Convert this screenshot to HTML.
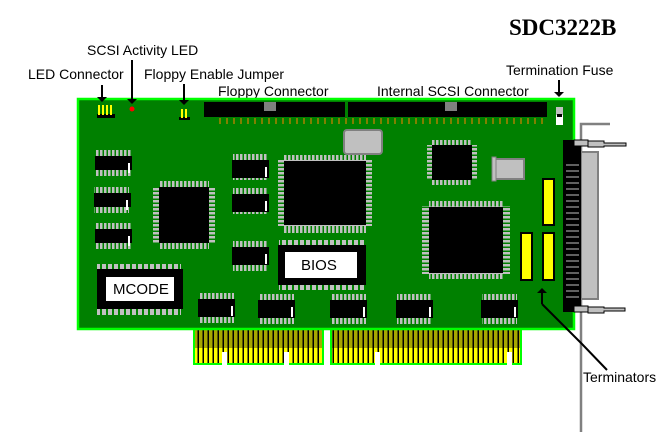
<!DOCTYPE html>
<html><head><style>body{margin:0;background:#fff}svg{display:block}text{font-family:"Liberation Sans",sans-serif;font-size:14px}</style></head><body>
<svg width="672" height="432" viewBox="0 0 672 432">
<defs>
<pattern id="pin" width="4" height="6" patternUnits="userSpaceOnUse"><rect width="2.5" height="6" fill="#c0c0c0"/></pattern>
<pattern id="pinv" width="6" height="4" patternUnits="userSpaceOnUse"><rect width="6" height="2.5" fill="#c0c0c0"/></pattern>
<pattern id="dpin" width="6" height="6" patternUnits="userSpaceOnUse"><rect width="4" height="6" fill="#c0c0c0"/></pattern>
<pattern id="gold" width="5" height="36" patternUnits="userSpaceOnUse"><rect width="5" height="36" fill="#ffff00"/><rect x="2.5" width="1.5" height="36" fill="#000"/></pattern>
<pattern id="hdr" width="7" height="7" patternUnits="userSpaceOnUse"><rect x="2" width="2" height="7" fill="#808000"/></pattern>
</defs>
<text x="509" y="35" style="font-family:'Liberation Serif',serif;font-weight:bold;font-size:23px">SDC3222B</text>
<text x="87" y="55">SCSI Activity LED</text>
<text x="28" y="79">LED Connector</text>
<text x="144" y="79">Floppy Enable Jumper</text>
<text x="218" y="96">Floppy Connector</text>
<text x="377" y="96">Internal SCSI Connector</text>
<text x="506" y="75">Termination Fuse</text>
<text x="583" y="382">Terminators</text>
<!-- edge connector -->
<rect x="193" y="328" width="131" height="37" fill="#00ff00"/>
<rect x="195" y="328" width="127" height="35" fill="url(#gold)"/>
<rect x="330" y="328" width="192" height="37" fill="#00ff00"/>
<rect x="332" y="328" width="188" height="35" fill="url(#gold)"/>
<rect x="195" y="328" width="127" height="20" fill="#000" opacity="0.35"/>
<rect x="332" y="328" width="188" height="20" fill="#000" opacity="0.35"/>
<rect x="222" y="352" width="5" height="13" fill="#fff"/><rect x="284" y="352" width="5" height="13" fill="#fff"/><rect x="375" y="352" width="5" height="13" fill="#fff"/><rect x="507" y="352" width="5" height="13" fill="#fff"/>
<!-- board -->
<rect x="78" y="99" width="496" height="230" fill="#008000" stroke="#00ff00" stroke-width="2.5"/>
<polyline points="610,124 581,124 581,432" fill="none" stroke="#808080" stroke-width="2.5"/>
<rect x="581" y="152" width="17" height="147" fill="#c0c0c0" stroke="#808080" stroke-width="2"/>
<rect x="563" y="140" width="18" height="172" fill="#000"/>
<g stroke="#c0c0c0" stroke-width="1">
<path d="M566 165h13M566 171h13M566 177h13M566 183h13M566 189h13M566 195h13M566 201h13M566 207h13M566 213h13M566 219h13M566 225h13M566 231h13M566 237h13M566 243h13M566 249h13M566 255h13M566 261h13M566 267h13M566 273h13M566 279h13M566 285h13M566 291h13M566 297h13"/></g>
<g fill="#c0c0c0" stroke="#000" stroke-width="1"><rect x="574" y="140" width="14" height="6"/><rect x="574" y="306" width="14" height="6"/>
<path d="M588 141h16v2h22v3h-22v1h-16z"/><path d="M588 307h16v1h21v3h-21v2h-16z"/></g>
<!-- headers -->
<rect x="204" y="102" width="141" height="15" fill="#000"/>
<rect x="348" y="102" width="199" height="15" fill="#000"/>
<rect x="264" y="102" width="12" height="9" fill="#808080"/><rect x="445" y="102" width="12" height="9" fill="#808080"/>
<rect x="217" y="118" width="330" height="6" fill="url(#hdr)"/>
<rect x="556" y="107" width="7" height="18" fill="#fff"/><rect x="556" y="107" width="7" height="8" fill="#c0c0c0"/><rect x="557" y="114" width="5" height="3" fill="#000"/>
<rect x="97" y="114" width="18" height="4" fill="#000"/>
<rect x="98" y="105" width="2" height="10" fill="#ff0"/><rect x="102" y="105" width="2" height="10" fill="#ff0"/><rect x="106" y="105" width="2" height="10" fill="#ff0"/><rect x="110" y="105" width="2" height="10" fill="#ff0"/>
<rect x="179" y="117" width="11" height="3" fill="#000"/><rect x="181" y="109" width="2" height="9" fill="#ff0"/><rect x="185" y="109" width="2" height="9" fill="#ff0"/>
<circle cx="132" cy="109" r="2.5" fill="#f00"/>
<rect x="344" y="130" width="38" height="24" rx="3" fill="#c0c0c0" stroke="#808080" stroke-width="2"/>
<rect x="494" y="159" width="30" height="20" fill="#c0c0c0" stroke="#808080" stroke-width="2"/><rect x="492" y="157" width="4" height="24" fill="#c0c0c0" stroke="#808080"/>
<!-- QFPs -->
<rect x="159" y="181" width="50" height="68" fill="url(#pin)"/><rect x="153" y="187" width="62" height="56" fill="url(#pinv)"/><rect x="159" y="187" width="50" height="56" fill="#000"/>
<rect x="284" y="155" width="82" height="78" fill="url(#pin)"/><rect x="278" y="160" width="94" height="66" fill="url(#pinv)"/><rect x="284" y="161" width="82" height="64" fill="#000"/>
<rect x="432" y="140" width="40" height="45" fill="url(#pin)"/><rect x="427" y="145" width="50" height="35" fill="url(#pinv)"/><rect x="432" y="145" width="40" height="35" fill="#000"/>
<rect x="429" y="201" width="74" height="78" fill="url(#pin)"/><rect x="422" y="206" width="88" height="68" fill="url(#pinv)"/><rect x="429" y="207" width="74" height="66" fill="#000"/>
<!-- SOICs -->
<g fill="#fff">
<rect x="96" y="150" width="35" height="26" fill="url(#pin)"/><rect x="95" y="156" width="37" height="14" fill="#000"/>
<rect x="94" y="187" width="35" height="26" fill="url(#pin)"/><rect x="94" y="193" width="37" height="14" fill="#000"/>
<rect x="96" y="223" width="35" height="26" fill="url(#pin)"/><rect x="95" y="229" width="37" height="14" fill="#000"/>
<rect x="233" y="154" width="35" height="26" fill="url(#pin)"/><rect x="232" y="160" width="37" height="18" fill="#000"/>
<rect x="233" y="188" width="35" height="26" fill="url(#pin)"/><rect x="232" y="194" width="37" height="18" fill="#000"/>
<rect x="233" y="241" width="35" height="30" fill="url(#pin)"/><rect x="232" y="247" width="37" height="18" fill="#000"/>
<rect x="199" y="293" width="35" height="30" fill="url(#pin)"/><rect x="198" y="299" width="37" height="18" fill="#000"/>
<rect x="259" y="294" width="35" height="30" fill="url(#pin)"/><rect x="258" y="300" width="37" height="18" fill="#000"/>
<rect x="331" y="294" width="35" height="30" fill="url(#pin)"/><rect x="330" y="300" width="37" height="18" fill="#000"/>
<rect x="397" y="294" width="35" height="30" fill="url(#pin)"/><rect x="396" y="300" width="37" height="18" fill="#000"/>
<rect x="482" y="294" width="35" height="30" fill="url(#pin)"/><rect x="481" y="300" width="37" height="18" fill="#000"/>
</g>
<g fill="#fff"><rect x="128" y="163" width="2" height="10"/><rect x="126" y="200" width="2" height="10"/><rect x="128" y="236" width="2" height="10"/><rect x="265" y="167" width="2" height="10"/><rect x="265" y="201" width="2" height="10"/><rect x="265" y="254" width="2" height="10"/><rect x="231" y="306" width="2" height="10"/><rect x="291" y="307" width="2" height="10"/><rect x="363" y="307" width="2" height="10"/><rect x="429" y="307" width="2" height="10"/><rect x="514" y="307" width="2" height="10"/></g>
<!-- DIPs -->
<rect x="97" y="264" width="84" height="6" fill="url(#dpin)"/>
<rect x="97" y="309" width="84" height="6" fill="url(#dpin)"/>
<rect x="97" y="269" width="86" height="40" fill="#000"/><rect x="106" y="277" width="68" height="24" fill="#fff"/>
<text x="113" y="294" style="font-size:15px">MCODE</text>
<rect x="279" y="240" width="86" height="6" fill="url(#dpin)"/>
<rect x="279" y="284" width="86" height="6" fill="url(#dpin)"/>
<rect x="278" y="245" width="88" height="40" fill="#000"/><rect x="285" y="252" width="72" height="26" fill="#fff"/>
<text x="301" y="270" style="font-size:15px">BIOS</text>
<g fill="#ff0" stroke="#000" stroke-width="2">
<rect x="543" y="179" width="11" height="46"/><rect x="521" y="233" width="11" height="47"/><rect x="543" y="233" width="11" height="47"/></g>
<g stroke="#000" stroke-width="2" fill="none">
<path d="M102 85V97M132 60V100M184 84V101M559 80V92M542 304V292M542 304L582 344L607 370"/></g>
<g fill="#000">
<path d="M97 97h10l-5 5z"/><path d="M127 99h10l-5 5z"/><path d="M179 100h10l-5 5z"/><path d="M554 92h10l-5 5z"/><path d="M537 293h10l-5-5z"/></g>
</svg>
</body></html>
